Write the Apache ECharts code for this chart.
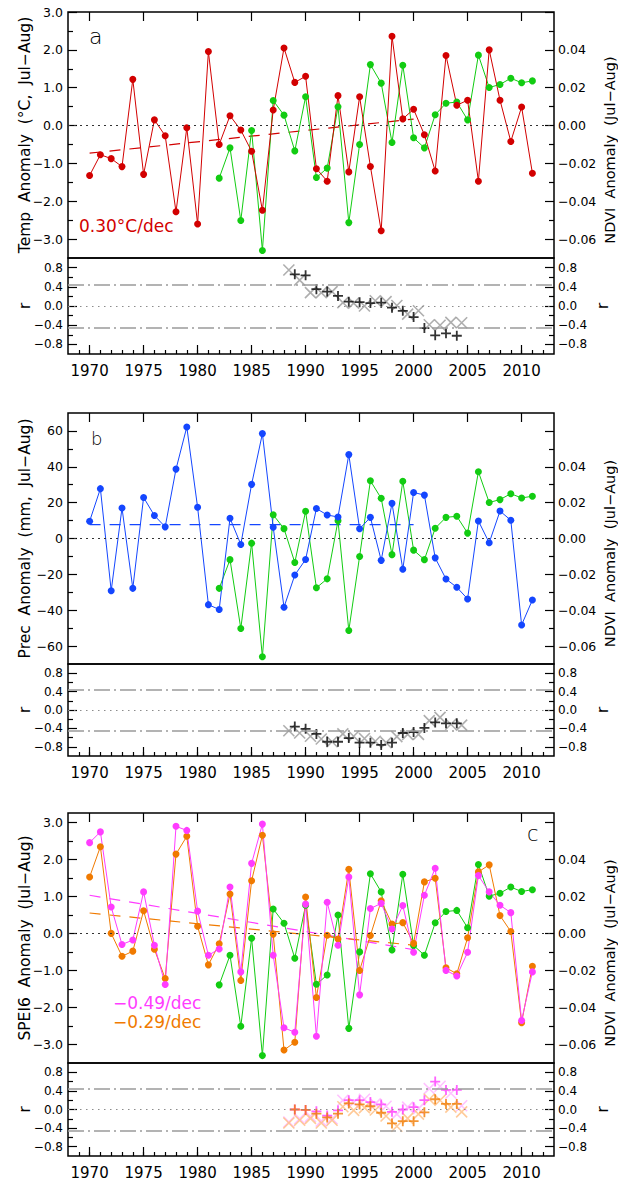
<!DOCTYPE html>
<html>
<head>
<meta charset="utf-8">
<title>Temperature, precipitation and SPEI6 anomalies with NDVI</title>
<script src="https://cdn.jsdelivr.net/npm/echarts@6.0.0/dist/echarts.min.js"></script>
<style>
html,body{margin:0;padding:0;background:#ffffff;}
#chart{width:618px;height:1184px;}
</style>
</head>
<body>
<div id="chart"></div>
<script>
// ---------------- data ----------------
const climYears = [1970,1971,1972,1973,1974,1975,1976,1977,1978,1979,
                   1980,1981,1982,1983,1984,1985,1986,1987,1988,1989,
                   1990,1991,1992,1993,1994,1995,1996,1997,1998,1999,
                   2000,2001,2002,2003,2004,2005,2006,2007,2008,2009,
                   2010,2011];
const ndviYears = [1982,1983,1984,1985,1986,1987,1988,1989,1990,1991,
                   1992,1993,1994,1995,1996,1997,1998,1999,2000,2001,
                   2002,2003,2004,2005,2006,2007,2008,2009,2010,2011];

const tempAnom = [-1.32,-0.77,-0.875,-1.085,1.22,-1.29,0.15,-0.27,-2.28,-0.06,
                  -2.60,1.955,-0.50,0.26,-0.12,-0.68,-2.24,0.41,2.05,1.14,
                  1.30,-1.14,-1.47,0.79,-1.225,0.76,-1.08,-2.78,2.36,0.176,
                  0.43,-0.245,-1.20,1.85,0.535,0.67,-1.47,2.00,0.67,-0.42,
                  0.49,-1.26];
const precAnom = [9.6,27.8,-29.1,17.0,-27.8,22.9,12.8,6.5,38.7,62.2,
                  17.4,-36.9,-39.6,11.3,-3.3,30.2,58.5,6.3,-38.3,-20.4,
                  -11.7,16.7,13.1,12.0,46.8,5.4,11.8,-12.2,19.6,-17.1,
                  25.7,24.2,-10.8,-22.6,-27.2,-33.7,9.8,-2.4,15.3,10.2,
                  -48.2,-34.3];
const spei6Magenta = [2.45,2.74,0.71,-0.30,-0.18,1.12,-0.32,-1.38,2.89,2.78,
                      0.60,-0.59,-0.42,1.25,-1.04,1.89,2.95,-0.59,-2.55,-2.67,
                      0.79,-2.78,0.84,-0.32,1.52,-1.66,0.67,0.81,0.12,0.75,
                      -0.51,1.03,1.76,-1.00,-1.15,-0.51,1.56,1.12,0.76,0.56,
                      -2.35,-1.04];
const spei6Orange = [1.52,2.34,0.00,-0.62,-0.48,0.61,-0.43,-1.22,2.14,2.62,
                     0.19,-0.85,-0.28,1.06,-1.27,1.42,2.65,-0.02,-3.15,-2.94,
                     0.98,-1.73,-0.05,-0.15,1.73,-1.00,-0.06,0.88,0.25,0.29,
                     -0.27,1.39,1.49,-0.93,-1.09,-0.12,1.66,1.85,0.48,0.05,
                     -2.41,-0.89];
const ndviAnom = [-0.0278,-0.0118,-0.0502,-0.0026,-0.0660,0.0132,0.0055,-0.0134,0.0152,-0.0275,
                  -0.0225,0.0099,-0.0513,-0.0100,0.0322,0.0224,-0.0090,0.0319,-0.0065,-0.0118,
                  0.0057,0.0118,0.0124,0.0030,0.0372,0.0201,0.0217,0.0250,0.0226,0.0236];

// trend lines (start, end)
const tempTrend = [[1970,-0.73],[2000,0.17]];
const precTrend = [[1970,7.7],[2000,7.7]];
const speiMagentaTrend = [[1970,1.03],[2000,-0.44]];
const speiOrangeTrend = [[1970,0.55],[2000,-0.32]];

// moving correlations
const corrPlusYears = [1989,1990,1991,1992,1993,1994,1995,1996,1997,1998,1999,2000,2001,2002,2003,2004];
const corrCrossYears = [1988.45,1989.45,1990.45,1991.45,1992.45,1993.45,1994.45,1995.45,1996.45,
                        1997.45,1998.45,1999.45,2000.45,2001.45,2002.45,2003.45,2004.45];
const rTempPlus  = [0.66,0.64,0.35,0.30,0.21,0.09,0.08,0.06,0.07,-0.035,-0.10,-0.23,-0.46,-0.61,-0.57,-0.62];
const rTempCross = [0.75,0.54,0.28,0.28,0.30,0.07,0.06,0.00,0.11,0.09,0.01,-0.17,-0.10,-0.39,-0.40,-0.34,-0.35];
const rPrecPlus  = [-0.36,-0.41,-0.52,-0.69,-0.69,-0.61,-0.71,-0.71,-0.76,-0.71,-0.50,-0.48,-0.39,-0.27,-0.29,-0.29];
const rPrecCross = [-0.45,-0.50,-0.57,-0.63,-0.69,-0.52,-0.57,-0.62,-0.68,-0.71,-0.58,-0.53,-0.53,-0.23,-0.16,-0.31,-0.33];
const rSpeiOrangePlus   = [0.00,-0.01,-0.09,-0.17,-0.09,0.13,0.11,0.07,-0.07,-0.30,-0.25,-0.25,-0.06,0.22,0.12,0.12];
const rSpeiMagentaPlus  = [0.00,-0.01,-0.04,-0.13,-0.02,0.20,0.20,0.16,0.11,-0.05,0.00,0.05,0.20,0.60,0.42,0.42];
const rSpeiOrangeCross  = [-0.29,-0.23,-0.19,-0.29,-0.23,0.06,-0.02,0.04,-0.01,-0.14,-0.36,-0.19,-0.10,0.22,0.20,0.05,-0.05];
const rSpeiMagentaCross = [-0.27,-0.20,-0.15,-0.25,-0.20,0.20,0.15,0.22,0.12,0.07,-0.10,0.05,0.02,0.45,0.50,0.35,0.08];
const rCrit = 0.45;

// tick labels
const yearTicks = [1970,1975,1980,1985,1990,1995,2000,2005,2010];
const tempTicks = [-3,-2,-1,0,1,2,3];
const precTicks = [-60,-40,-20,0,20,40,60];
const speiTicks = [-3,-2,-1,0,1,2,3];
const ndviTicks = [-0.06,-0.04,-0.02,0,0.02,0.04,0.06];
const ndviLabels = [-0.06,-0.04,-0.02,0,0.02,0.04];
const rTicks = [-0.8,-0.4,0,0.4,0.8];

// ---------------- styling ----------------
const FONT = "'DejaVu Sans', 'Liberation Sans', Arial, sans-serif";
const RED = '#d20000', GREEN = '#12cc12', BLUE = '#1446ff', MAG = '#ff3cff', ORA = '#f07a00';
const GRAY = '#9a9a9a', LORA = '#ffbd80', LMAG = '#ffb3ff';
const PLUS = 'path://M0,5L10,5M5,0L5,10';
const CROSS = 'path://M0,0L10,10M10,0L0,10';
const XMIN = 1968, XMAX = 2013;

function minus(s) { return s.replace('-', '\u2212'); }
function mids(t, lo, hi) {
  const step = t[1] - t[0], m = [];
  for (let v = t[0] - step / 2; v <= t[t.length - 1] + step / 2 + 1e-9; v += step) {
    if (v > lo + 1e-9 && v < hi - 1e-9) m.push(Math.round(v * 1e6) / 1e6);
  }
  return m;
}
const minorYears = [];
for (let y = XMIN + 1; y < XMAX; y++) minorYears.push(y);

const grids = [], xAxes = [], yAxes = [], series = [];

function addGrid(top, height) {
  grids.push({left: 68, width: 486, top: top, height: height, show: true,
    borderColor: '#000', borderWidth: 1.5, backgroundColor: 'rgba(0,0,0,0)',
    containLabel: false, outerBoundsMode: 'none'});
  return grids.length - 1;
}

function axisObj(gridIndex, pos, min, max, o) {
  const a = {type: 'value', gridIndex: gridIndex, position: pos, min: min, max: max,
    axisLine: {show: false, onZero: false}, splitLine: {show: false}, splitArea: {show: false},
    minorTick: {show: false}, minorSplitLine: {show: false},
    axisTick: {show: !!o.ticks, inside: true, length: o.len || 9,
      lineStyle: {color: '#000', width: 1.2}},
    axisLabel: {show: false}, axisPointer: {show: false}, silent: true, animation: false};
  if (o.ticks) a.axisTick.customValues = o.ticks;
  if (o.labels) {
    a.axisLabel = {show: true, customValues: o.labels, formatter: o.fmt, margin: o.margin,
      fontSize: o.fs, color: '#000', fontFamily: FONT, hideOverlap: false};
  }
  if (o.name) {
    a.name = o.name; a.nameLocation = 'middle'; a.nameRotate = 90; a.nameGap = o.nameGap;
    a.nameMoveOverlap = false;
    a.nameTextStyle = {fontSize: o.nfs, color: '#000', fontFamily: FONT, padding: o.npad || 0};
  }
  return a;
}

function buildPanel(p) {
  const gMain = addGrid(p.mainTop, p.mainH);
  const gSub = addGrid(p.subTop, p.subH);
  const xm = xAxes.push(axisObj(gMain, 'top', XMIN, XMAX, {ticks: yearTicks})) - 1;
  const yl = yAxes.push(axisObj(gMain, 'left', p.lmin, p.lmax, {ticks: p.lticks, labels: p.lticks,
    fmt: p.lfmt, margin: 5, fs: 12.5, name: p.lname, nameGap: 35, nfs: 15.5})) - 1;
  yAxes.push(axisObj(gMain, 'left', p.lmin, p.lmax, {ticks: mids(p.lticks, p.lmin, p.lmax), len: 5}));
  const yr = yAxes.push(axisObj(gMain, 'right', p.rmin, p.rmax, {ticks: ndviTicks, labels: ndviLabels,
    fmt: v => minus(v.toFixed(2)), margin: 4, fs: 12.5, name: 'NDVI  Anomaly  (Jul\u2212Aug)',
    nameGap: 48, nfs: 14.5, npad: [0, 30, 0, 0]})) - 1;
  yAxes.push(axisObj(gMain, 'right', p.rmin, p.rmax, {ticks: mids(ndviTicks, p.rmin, p.rmax), len: 5}));

  const xs = xAxes.push(axisObj(gSub, 'bottom', XMIN, XMAX, {ticks: yearTicks, labels: yearTicks,
    fmt: v => String(Math.round(v)), margin: 9, fs: 15})) - 1;
  xAxes.push(axisObj(gSub, 'bottom', XMIN, XMAX, {ticks: minorYears, len: 4}));
  const sl = yAxes.push(axisObj(gSub, 'left', -1, 1, {ticks: rTicks, labels: rTicks,
    fmt: v => minus(v.toFixed(1)), margin: 5, fs: 12, name: 'r', nameGap: 36, nfs: 16})) - 1;
  yAxes.push(axisObj(gSub, 'left', -1, 1, {ticks: mids(rTicks, -1, 1), len: 5}));
  yAxes.push(axisObj(gSub, 'right', -1, 1, {ticks: rTicks, labels: rTicks,
    fmt: v => minus(v.toFixed(1)), margin: 4, fs: 12, name: 'r', nameGap: 40, nfs: 16}));
  yAxes.push(axisObj(gSub, 'right', -1, 1, {ticks: mids(rTicks, -1, 1), len: 5}));
  return {xm: xm, yl: yl, yr: yr, xs: xs, sl: sl};
}

function pairs(xs, ys) { return xs.map((x, i) => [x, ys[i]]); }

function lineSeries(ax, xi, yi, xs, ys, color, extra) {
  return Object.assign({type: 'line', xAxisIndex: ax[xi], yAxisIndex: ax[yi], data: pairs(xs, ys),
    symbol: 'circle', symbolSize: 7, showSymbol: true, lineStyle: {color: color, width: 1},
    itemStyle: {color: color}, silent: true, animation: false, z: 3}, extra || {});
}
function trendSeries(ax, pts, color) {
  return {type: 'line', xAxisIndex: ax.xm, yAxisIndex: ax.yl, data: pts, symbol: 'none',
    showSymbol: false, lineStyle: {color: color, width: 1.2, type: [11, 9]}, silent: true,
    animation: false, z: 2};
}
function zeroLine() {
  return {silent: true, symbol: ['none', 'none'], label: {show: false}, animation: false,
    data: [{yAxis: 0, lineStyle: {type: [2, 4], color: '#333', width: 1.2}}]};
}
function refLines() {
  const dd = {type: [16, 4, 2, 4], color: '#9a9a9a', width: 1.5};
  return {silent: true, symbol: ['none', 'none'], label: {show: false}, animation: false,
    data: [{yAxis: 0, lineStyle: {type: [1.5, 4.5], color: '#8c8c8c', width: 1.2}},
           {yAxis: rCrit, lineStyle: dd}, {yAxis: -rCrit, lineStyle: dd}]};
}
function markSeries(ax, xs, ys, sym, size, color, width, extra) {
  return Object.assign({type: 'scatter', xAxisIndex: ax.xs, yAxisIndex: ax.sl, data: pairs(xs, ys),
    symbol: sym, symbolSize: size, itemStyle: {color: 'none', borderColor: color, borderWidth: width},
    silent: true, animation: false, z: 3}, extra || {});
}

// ---------------- panels ----------------
const A = buildPanel({mainTop: 12, mainH: 246, subTop: 258, subH: 96, lmin: -3.5, lmax: 3.0,
  rmin: -0.07, rmax: 0.06, lticks: tempTicks, lfmt: v => minus(v.toFixed(1)),
  lname: 'Temp  Anomaly  (\u00B0C,  Jul\u2212Aug)'});
const B = buildPanel({mainTop: 413, mainH: 251, subTop: 664, subH: 92, lmin: -70, lmax: 70,
  rmin: -0.07, rmax: 0.07, lticks: precTicks, lfmt: v => minus(v.toFixed(0)),
  lname: 'Prec  Anomaly  (mm,  Jul\u2212Aug)'});
const C = buildPanel({mainTop: 813, mainH: 250, subTop: 1063, subH: 93, lmin: -3.5, lmax: 3.25,
  rmin: -0.07, rmax: 0.065, lticks: speiTicks, lfmt: v => minus(v.toFixed(1)),
  lname: 'SPEI6  Anomaly  (Jul\u2212Aug)'});

// panel a
series.push(lineSeries(A, 'xm', 'yr', ndviYears, ndviAnom, GREEN, {markLine: zeroLine()}));
series.push(lineSeries(A, 'xm', 'yl', climYears, tempAnom, RED));
series.push(trendSeries(A, tempTrend, RED));
series.push(markSeries(A, corrCrossYears, rTempCross, CROSS, 11, GRAY, 1.6, {markLine: refLines()}));
series.push(markSeries(A, corrPlusYears, rTempPlus, PLUS, 10, '#000', 1.8));
// panel b
series.push(lineSeries(B, 'xm', 'yr', ndviYears, ndviAnom, GREEN, {markLine: zeroLine()}));
series.push(lineSeries(B, 'xm', 'yl', climYears, precAnom, BLUE));
series.push(trendSeries(B, precTrend, BLUE));
series.push(markSeries(B, corrCrossYears, rPrecCross, CROSS, 11, GRAY, 1.6, {markLine: refLines()}));
series.push(markSeries(B, corrPlusYears, rPrecPlus, PLUS, 10, '#000', 1.8));
// panel c
series.push(lineSeries(C, 'xm', 'yr', ndviYears, ndviAnom, GREEN, {markLine: zeroLine()}));
series.push(lineSeries(C, 'xm', 'yl', climYears, spei6Orange, ORA));
series.push(lineSeries(C, 'xm', 'yl', climYears, spei6Magenta, MAG));
series.push(trendSeries(C, speiMagentaTrend, MAG));
series.push(trendSeries(C, speiOrangeTrend, ORA));
series.push(markSeries(C, corrCrossYears, rSpeiMagentaCross, CROSS, 11, LMAG, 1.6, {markLine: refLines()}));
series.push(markSeries(C, corrCrossYears, rSpeiOrangeCross, CROSS, 11, LORA, 1.6));
series.push(markSeries(C, corrPlusYears, rSpeiMagentaPlus, PLUS, 10, MAG, 1.8));
series.push(markSeries(C, corrPlusYears, rSpeiOrangePlus, PLUS, 10, ORA, 1.8));

function label(text, x, y, size, color, weight) {
  return {type: 'text', x: x, y: y, silent: true, z: 10,
    style: {text: text, fill: color, fontSize: size, fontFamily: FONT, fontWeight: weight || 'normal',
      align: 'left', verticalAlign: 'middle'}};
}
const graphics = [
  label('a', 89, 36, 22, '#000', 'lighter'),
  label('b', 91, 438, 18, '#000', 'lighter'),
  label('c', 527, 834, 21, '#000', 'lighter'),
  label('0.30\u00B0C/dec', 79, 226, 17, RED),
  label('\u22120.49/dec', 113, 1003, 17, MAG),
  label('\u22120.29/dec', 113, 1021.5, 17, ORA)
];

const chart = echarts.init(document.getElementById('chart'), null, {renderer: 'svg', width: 618, height: 1184});
chart.setOption({
  animation: false,
  backgroundColor: '#ffffff',
  grid: grids,
  xAxis: xAxes,
  yAxis: yAxes,
  series: series,
  graphic: graphics
});
</script>
</body>
</html>
